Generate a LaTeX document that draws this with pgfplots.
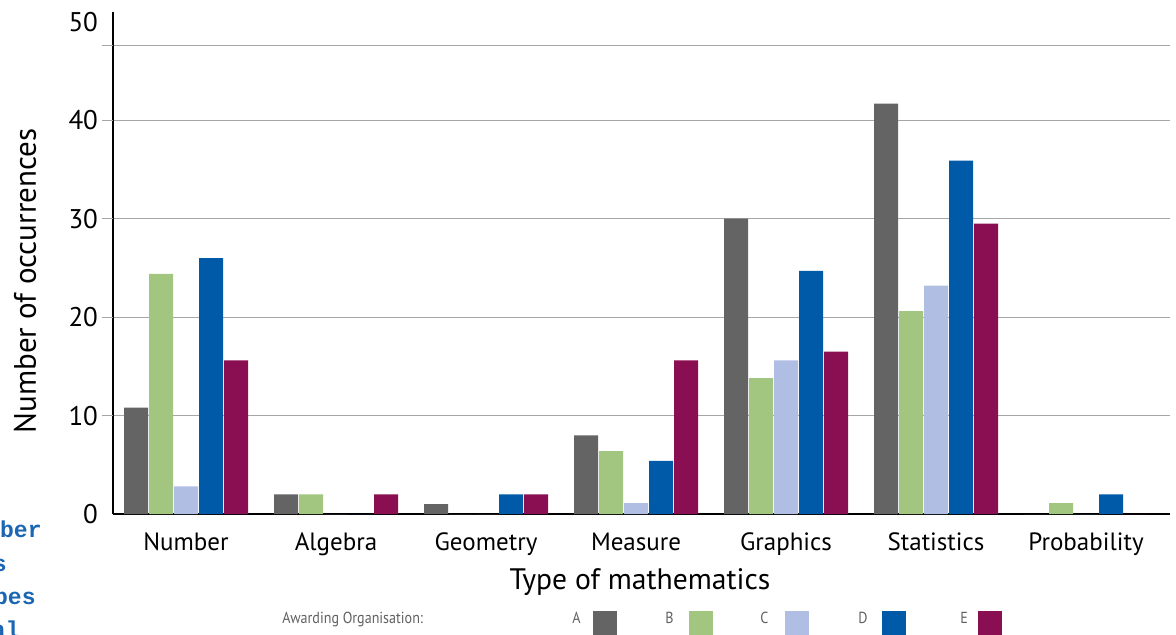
\documentclass[border=0pt]{standalone}
\usepackage{fontspec}
\setmainfont{PT Sans}
\newfontfamily\legfont[FakeStretch=0.88]{PT Sans}
\newfontfamily\bluemono{Liberation Mono}
\usepackage{pgfplots}
\pgfplotsset{compat=1.18}
\definecolor{cA}{HTML}{646464}
\definecolor{cB}{HTML}{A2C580}
\definecolor{cC}{HTML}{B0BEE3}
\definecolor{cD}{HTML}{005AA8}
\definecolor{cE}{HTML}{8A0E52}
\definecolor{gridgray}{HTML}{A6A6A6}
\definecolor{leggray}{HTML}{606060}
\definecolor{sideblue}{HTML}{1A66B3}
\begin{document}
\begin{tikzpicture}
\useasboundingbox (0,0) rectangle (588pt,317pt);
\begin{axis}[
  at={(56.5pt,60pt)}, anchor=south west,
  scale only axis, width=528.5pt, height=251pt,
  xmin=-0.487, xmax=6.56, ymin=0, ymax=51,
  clip=false,
  axis x line*=bottom, axis y line*=left,
  axis line style={black, line width=1.4pt, -},
  ybar=0.5pt, bar width=12pt,
  tick align=outside, major tick length=5.5pt,
  xtick={0,1,2,3,4,5,6},
  xticklabels={Number,Algebra,Geometry,Measure,Graphics,Statistics,Probability},
  xtick style={draw=none},
  x tick label style={font=\fontsize{12.5}{14}\selectfont, anchor=base, yshift=-12.5pt},
  extra x ticks={0.5,1.5,2.5,3.5,4.5,5.5,6.5},
  extra x tick labels={},
  extra x tick style={major tick length=8.5pt, tick style={gridgray, line width=0.8pt}},
  ytick={0,10,20,30,40,47.6},
  yticklabels={0,10,20,30,40,{}},
  ytick style={draw=none},
  extra y ticks={50}, extra y tick labels={50},
  extra y tick style={grid=none, tick style={draw=none}},
  y tick label style={font=\fontsize{13.5}{15}\selectfont, xshift=1.5pt},
  ymajorgrids, grid style={gridgray, line width=0.6pt},
]
\addplot[fill=cA, draw=none] coordinates {(0,10.8) (1,2) (2,1) (3,8) (4,30) (5,41.7) (6,0)};
\addplot[fill=cB, draw=none] coordinates {(0,24.4) (1,2) (2,0) (3,6.4) (4,13.8) (5,20.6) (6,1.1)};
\addplot[fill=cC, draw=none] coordinates {(0,2.8) (1,0) (2,0) (3,1.1) (4,15.6) (5,23.2) (6,0)};
\addplot[fill=cD, draw=none] coordinates {(0,26) (1,0) (2,2) (3,5.4) (4,24.7) (5,35.9) (6,2)};
\addplot[fill=cE, draw=none] coordinates {(0,15.6) (1,2) (2,2) (3,15.6) (4,16.5) (5,29.5) (6,0)};
\pgfplotsinvokeforeach{10,20,30,40,47.6}{
  \draw[gridgray, line width=0.6pt] (axis cs:-0.487,#1) -- ++(-5.5pt,0pt);
}
\end{axis}
\node[anchor=base, font=\fontsize{14.8}{16}\selectfont, inner sep=0pt] at (320pt,22.5pt) {Type of mathematics};
\node[rotate=90, font=\fontsize{15.5}{17}\selectfont, inner sep=0pt] at (12.5pt,176.5pt) {Number of occurrences};
\begin{scope}[font=\legfont\fontsize{8}{9}\selectfont, text=leggray]
\node[anchor=base west, inner sep=0pt] at (141pt,5.5pt) {Awarding Organisation:};
\node[anchor=base west, inner sep=0pt] at (286pt,5.5pt) {A};
\node[anchor=base west, inner sep=0pt] at (332.5pt,5.5pt) {B};
\node[anchor=base west, inner sep=0pt] at (380pt,5.5pt) {C};
\node[anchor=base west, inner sep=0pt] at (429pt,5.5pt) {D};
\node[anchor=base west, inner sep=0pt] at (480pt,5.5pt) {E};
\end{scope}
\fill[cA] (296.5pt,-0.5pt) rectangle (308.5pt,11.5pt);
\fill[cB] (344.5pt,-0.5pt) rectangle (356.5pt,11.5pt);
\fill[cC] (392.5pt,-0.5pt) rectangle (404.5pt,11.5pt);
\fill[cD] (441pt,-0.5pt) rectangle (453pt,11.5pt);
\fill[cE] (489pt,-0.5pt) rectangle (501pt,11.5pt);
\begin{scope}[font=\bluemono\bfseries\fontsize{11.5}{13}\selectfont, text=sideblue]
\node[anchor=base east, inner sep=0pt] at (21pt,48.5pt) {ber};
\node[anchor=base east, inner sep=0pt] at (3.5pt,31.5pt) {s};
\node[anchor=base east, inner sep=0pt] at (18pt,15pt) {pes};
\node[anchor=base east, inner sep=0pt] at (10pt,-1.5pt) {al};
\end{scope}
\end{tikzpicture}
\end{document}
